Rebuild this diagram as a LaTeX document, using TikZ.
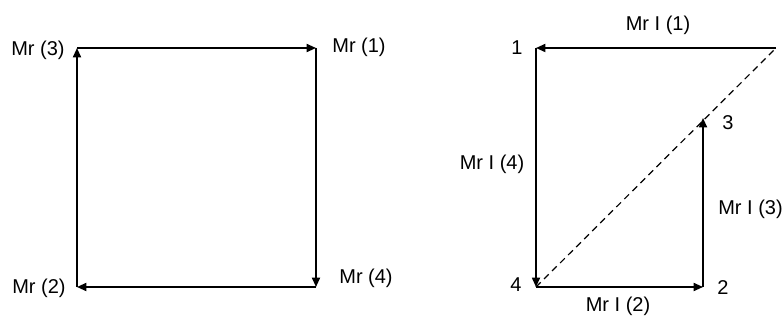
\documentclass[tikz,border=0pt]{standalone}
\usepackage{fontspec}
\setmainfont{Liberation Sans}
\usetikzlibrary{arrows.meta}

\begin{document}
\begin{tikzpicture}[x=0.75pt,y=-0.75pt,
  vec/.style={line width=1.3pt, -{Triangle[length=7pt,width=6pt]}},
  chord/.style={line width=0.9pt, dash pattern=on 5pt off 3.5pt},
  lbl/.style={font=\fontsize{15}{18}\selectfont, inner sep=0pt}]
\useasboundingbox (0,0) rectangle (784,320);
% rectangle of the four moments
\coordinate (ltl) at (77,48);
\coordinate (ltr) at (316,48);
\coordinate (lbl) at (77,287);
\coordinate (lbr) at (316,287);
\draw[vec] (ltl) -- (ltr);
\draw[vec] (ltr) -- (lbr);
\draw[vec] (lbr) -- (lbl);
\draw[vec] (lbl) -- (ltl);
\node[lbl] (mr3) at (38,50) {Mr (3)};
\node[lbl] (mr1) at (359,47) {Mr (1)};
\node[lbl] (mr2) at (39,288) {Mr (2)};
\node[lbl] (mr4) at (366,278) {Mr (4)};
% polygon of the moments
\coordinate (p1) at (536,48);
\coordinate (p0) at (776,48);
\coordinate (p4) at (536,287);
\coordinate (p2) at (703,287);
\coordinate (p3) at (703,118);
\draw[vec] (p0) -- (p1);
\draw[vec] (p1) -- (p4);
\draw[vec] (p4) -- (p2);
\draw[vec] (p2) -- (p3);
\draw[chord] (p4) -- (p0);
\node[lbl] (n1) at (517,48) {1};
\node[lbl] (n4) at (516,285) {4};
\node[lbl] (n2) at (723,288) {2};
\node[lbl] (n3) at (728,123) {3};
\node[lbl] (mi1) at (658,25) {Mr I (1)};
\node[lbl] (mi4) at (492,164) {Mr I (4)};
\node[lbl] (mi2) at (618,306) {Mr I (2)};
\node[lbl, anchor=west] (mi3) at (718,209) {Mr I (3)};
\end{tikzpicture}
\end{document}
